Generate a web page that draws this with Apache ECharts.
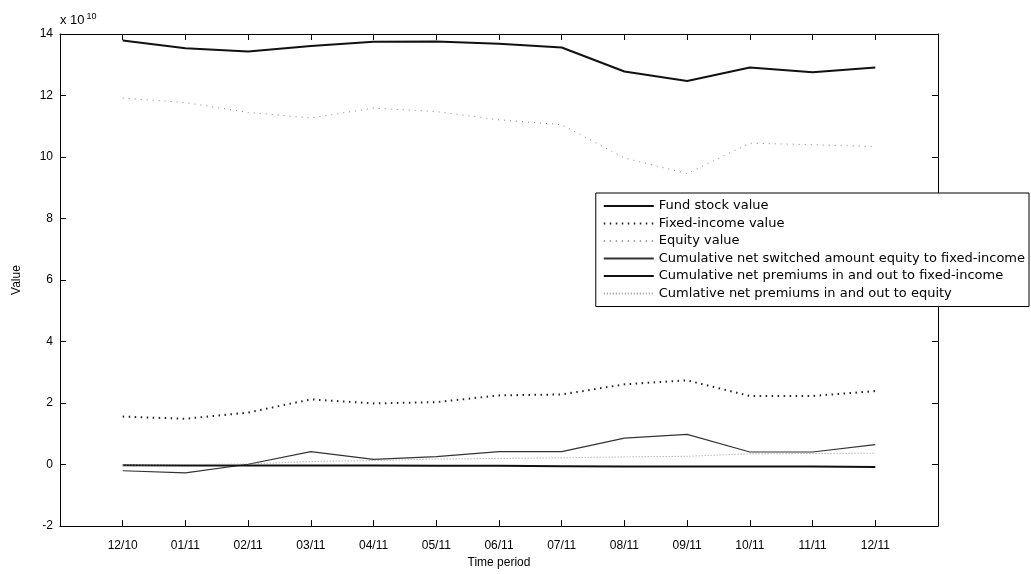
<!DOCTYPE html>
<html>
<head>
<meta charset="utf-8">
<script src="https://cdn.jsdelivr.net/npm/echarts@6/dist/echarts.min.js"></script>
<style>
html,body{margin:0;padding:0;background:#fff;}
#chart{width:1031px;height:574px;}
</style>
</head>
<body>
<div id="chart"></div>
<script>
// values in units of 10^10
const categories = ['12/10','01/11','02/11','03/11','04/11','05/11','06/11','07/11','08/11','09/11','10/11','11/11','12/11'];
const fundStock = [13.79, 13.54, 13.43, 13.61, 13.75, 13.76, 13.68, 13.56, 12.78, 12.47, 12.91, 12.76, 12.91];
const fixedIncome = [1.56, 1.49, 1.69, 2.12, 1.99, 2.03, 2.25, 2.28, 2.61, 2.74, 2.23, 2.23, 2.39];
const equity = [11.92, 11.77, 11.45, 11.27, 11.59, 11.48, 11.21, 11.05, 9.97, 9.46, 10.45, 10.40, 10.34];
const switched = [-0.20, -0.27, 0.01, 0.42, 0.17, 0.26, 0.42, 0.42, 0.86, 0.98, 0.41, 0.41, 0.65];
const premFixed = [-0.02, -0.03, -0.03, -0.03, -0.03, -0.04, -0.04, -0.05, -0.06, -0.06, -0.06, -0.06, -0.08];
const premEquity = [-0.02, 0.00, 0.02, 0.10, 0.13, 0.18, 0.20, 0.22, 0.25, 0.27, 0.35, 0.36, 0.37];
const yTicks = [-2, 0, 2, 4, 6, 8, 10, 12, 14];

const toPts = arr => arr.map((v, i) => [i + 1, v]);

const chart = echarts.init(document.getElementById('chart'));
const axisFont = { fontFamily: 'Liberation Sans, Arial, sans-serif', fontSize: 12, color: '#000' };

function mkSeries(name, data, color, width, type) {
  return {
    name: name, type: 'line', data: toPts(data), symbol: 'none',
    xAxisIndex: 0, yAxisIndex: 0,
    lineStyle: { color: color, width: width, type: type },
    itemStyle: { color: color },
    emphasis: { disabled: true }, silent: true
  };
}

chart.setOption({
  animation: false,
  backgroundColor: '#fff',
  grid: { left: 60, right: 93, top: 34, bottom: 47, containLabel: false },
  xAxis: [{
    type: 'value', min: 0, max: 14, interval: 1,
    name: 'Time period', nameLocation: 'middle', nameGap: 30,
    nameTextStyle: axisFont,
    axisLine: { show: true, onZero: false, lineStyle: { color: '#000', width: 1 } },
    axisTick: { show: true, inside: true, length: 6, lineStyle: { color: '#000' } },
    axisLabel: Object.assign({ margin: 14, formatter: v => (v >= 1 && v <= 13) ? categories[v - 1] : '' }, axisFont),
    splitLine: { show: false }
  }, {
    type: 'value', min: 0, max: 14, interval: 1, position: 'top',
    axisLine: { show: true, onZero: false, lineStyle: { color: '#000', width: 1 } },
    axisTick: { show: true, inside: true, length: 6, lineStyle: { color: '#000' } },
    axisLabel: { show: false }, splitLine: { show: false }
  }],
  yAxis: [{
    type: 'value', min: yTicks[0], max: yTicks[yTicks.length - 1], interval: 2,
    name: 'Value', nameLocation: 'middle', nameGap: 37,
    nameTextStyle: axisFont,
    axisLine: { show: true, onZero: false, lineStyle: { color: '#000', width: 1 } },
    axisTick: { show: true, inside: true, length: 6, lineStyle: { color: '#000' } },
    axisLabel: Object.assign({ margin: 7 }, axisFont),
    splitLine: { show: false }
  }, {
    type: 'value', min: yTicks[0], max: yTicks[yTicks.length - 1], interval: 2, position: 'right',
    axisLine: { show: true, onZero: false, lineStyle: { color: '#000', width: 1 } },
    axisTick: { show: true, inside: true, length: 6, lineStyle: { color: '#000' } },
    axisLabel: { show: false }, splitLine: { show: false }
  }],
  legend: {
    orient: 'vertical', right: 2, top: 193,
    backgroundColor: '#fff', borderColor: '#000', borderWidth: 1,
    padding: [6, 4, 6, 7],
    itemWidth: 50, itemHeight: 10, itemGap: 3.5,
    itemStyle: { opacity: 0 },
    textStyle: { fontFamily: 'DejaVu Sans, sans-serif', fontSize: 13, color: '#000', lineHeight: 14 },
    selectedMode: false
  },
  graphic: [{
    type: 'text', left: 60, top: 12,
    style: {
      text: 'x 10{s|10}',
      rich: { s: { fontSize: 9, verticalAlign: 'top', padding: [0, 0, 8, 2], fontFamily: 'Liberation Sans, Arial, sans-serif' } },
      font: '13px Liberation Sans, Arial, sans-serif', fill: '#000'
    }
  }],
  series: [
    mkSeries('Fund stock value', fundStock, '#111', 2, 'solid'),
    mkSeries('Fixed-income value', fixedIncome, '#222', 2, [1.5, 4.5]),
    mkSeries('Equity value', equity, '#888', 1, [1, 5]),
    mkSeries('Cumulative net switched amount equity to fixed-income', switched, '#333', 1.2, 'solid'),
    mkSeries('Cumulative net premiums in and out to fixed-income', premFixed, '#111', 2, 'solid'),
    mkSeries('Cumlative net premiums in and out to equity', premEquity, '#999', 1, [1, 2])
  ]
});
</script>
</body>
</html>
